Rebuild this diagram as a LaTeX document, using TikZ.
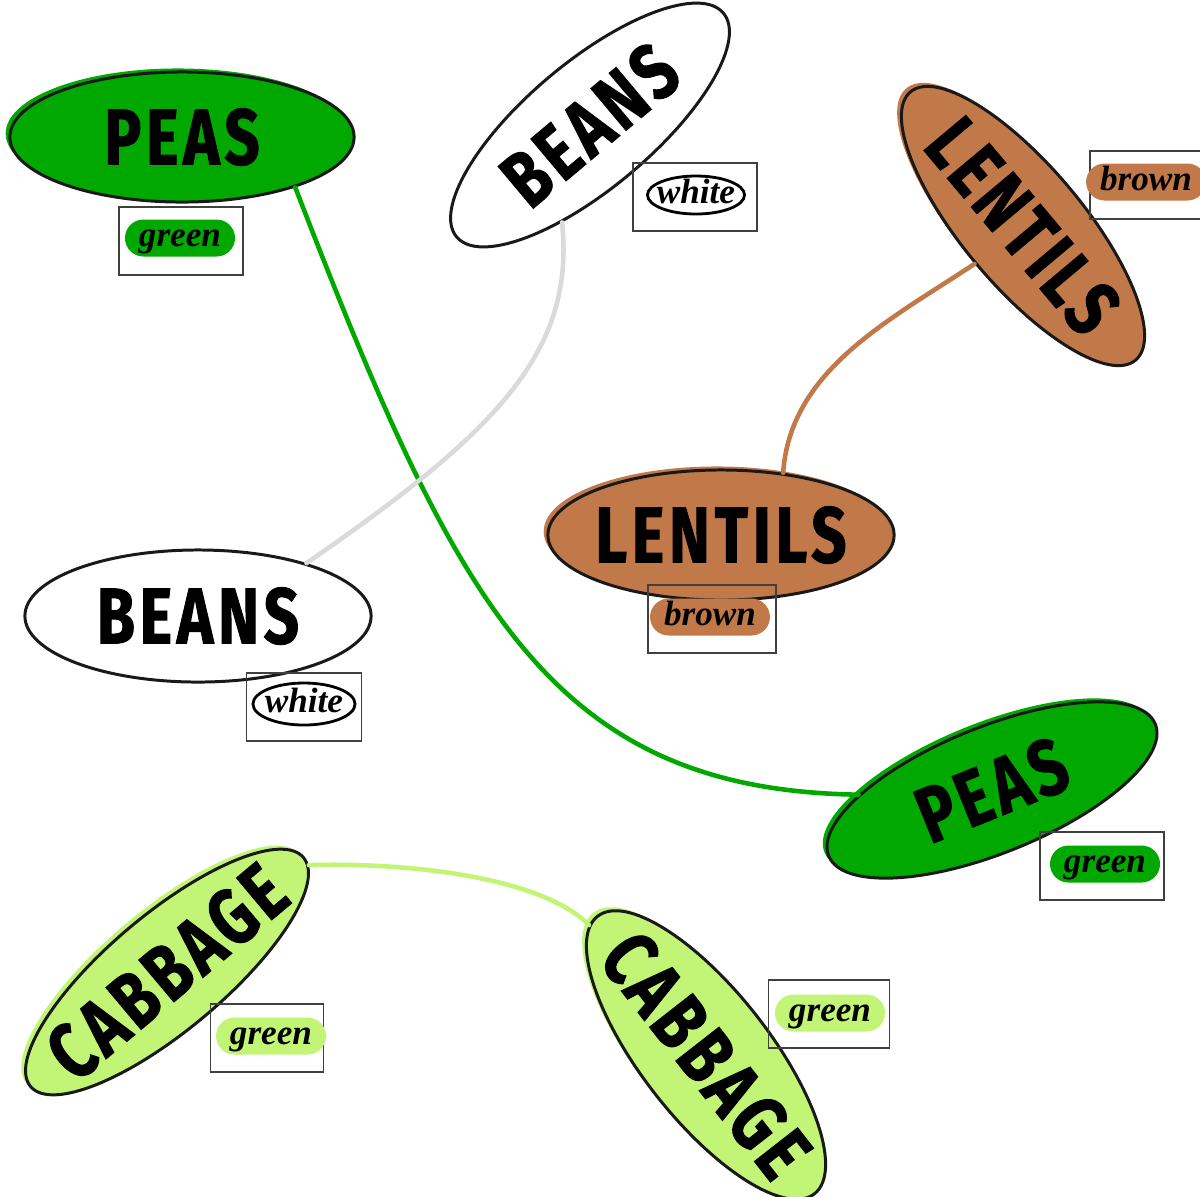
\documentclass[tikz,border=0pt]{standalone}
\usepackage{fontspec}
\usetikzlibrary{shapes.geometric}
\newfontfamily\headfont{Fira Sans}[UprightFont=* Bold, FakeStretch=0.78, FakeBold=1.2, LetterSpace=6]
\newfontfamily\tagfont{Liberation Serif}
\definecolor{peagreen}{HTML}{00A800}
\definecolor{lentilbrown}{HTML}{C17949}
\definecolor{cabbagegreen}{HTML}{C2F575}
\definecolor{beangrey}{HTML}{DADADA}
\newcommand{\veg}[1]{\makebox[0pt]{#1}}
\tikzset{
  veg/.style={ellipse, draw=black!90, line width=0.85pt, inner sep=0pt,
    font=\headfont\fontsize{22.5}{24}\selectfont},
  marker/.style={preaction={fill=#1, transform canvas={shift={(-1.2pt,1pt)}}}, fill=#1},
  tagbox/.style={draw=black!75, line width=0.5pt, minimum width=1.24cm, minimum height=0.68cm},
  tagtext/.style={font=\tagfont\bfseries\itshape\fontsize{10}{11}\selectfont, text height=4.8pt, text depth=0pt},
  tag/.style={tagtext, rounded corners=0.185cm, minimum height=0.37cm, inner xsep=0.14cm, inner ysep=0pt},
  whitetag/.style={tagtext, ellipse, draw, line width=0.8pt, inner sep=0pt},
  link/.style={line width=1.3pt, line cap=round},
}
\begin{document}
\begin{tikzpicture}[x=0.01cm, y=-0.01cm]
%\draw[step=100,gray,very thin] (0,0) grid (1200,1196); %background grid
\useasboundingbox (0,0) rectangle (1200,1196);
\node[veg, marker=peagreen, minimum width=3.44cm, minimum height=1.3cm] (peasA) at (182,137) {\veg{PEAS}};
\node[veg, rotate=40, minimum width=3.48cm, minimum height=1.26cm] (beansA) at (590,125) {\veg{BEANS}};
\node[veg, marker=lentilbrown, rotate=-50, minimum width=3.5cm, minimum height=1.2cm] (lentilsA) at (1023,226) {\veg{LENTILS}};
\node[veg, marker=lentilbrown, minimum width=3.46cm, minimum height=1.3cm] (lentilsB) at (721,535) {\veg{LENTILS}};
\node[veg, minimum width=3.46cm, minimum height=1.32cm] (beansB) at (198,616) {\veg{BEANS}};
\node[veg, marker=peagreen, rotate=22, minimum width=3.52cm, minimum height=1.26cm] (peasB) at (992,790) {\veg{PEAS}};
\node[veg, marker=cabbagegreen, rotate=40, minimum width=3.56cm, minimum height=1.16cm] (cabbageA) at (167,972) {\veg{CABBAGE}};
\node[veg, marker=cabbagegreen, rotate=-52, minimum width=3.52cm, minimum height=1.28cm] (cabbageB) at (706,1055) {\veg{CABBAGE}};
% links
\draw[link, peagreen] (peasA.-24) .. controls (457,606) and (550,790) .. (peasB.160);
\draw[link, beangrey] (beansA.214) .. controls (575,350) and (500,430) .. (beansB.26);
\draw[link, lentilbrown] (lentilsA.268) .. controls (890,320) and (790,370) .. (lentilsB.45);
\draw[link, cabbagegreen] (cabbageA.-3) .. controls (420,862) and (545,880) .. (cabbageB.184);
% colour tags
\node[tagbox] (peasAbox) at (181,241) {};
\node[tag, fill=peagreen] (peasAtag) at (180,238) {green};
\node[tagbox] (beansAbox) at (695,197) {};
\node[whitetag, minimum width=0.97cm, minimum height=0.38cm] (beansAtag) at (696,195) {\veg{white}};
\node[tagbox] (lentilsAbox) at (1152,185) {};
\node[tag, fill=lentilbrown] (lentilsAtag) at (1146,182) {brown};
\node[tagbox, minimum width=1.28cm] (lentilsBbox) at (712,619) {};
\node[tag, fill=lentilbrown] (lentilsBtag) at (710,617) {brown};
\node[tagbox, minimum width=1.15cm] (beansBbox) at (304,707) {};
\node[whitetag, minimum width=1.02cm, minimum height=0.42cm] (beansBtag) at (304,704) {\veg{white}};
\node[tagbox] (peasBbox) at (1102,866) {};
\node[tag, fill=peagreen] (peasBtag) at (1105,864) {green};
\node[tagbox, minimum width=1.13cm] (cabbageAbox) at (267,1038) {};
\node[tag, fill=cabbagegreen] (cabbageAtag) at (271,1036) {green};
\node[tagbox, minimum width=1.21cm] (cabbageBbox) at (829,1014) {};
\node[tag, fill=cabbagegreen] (cabbageBtag) at (830,1013) {green};
\end{tikzpicture}
\end{document}
